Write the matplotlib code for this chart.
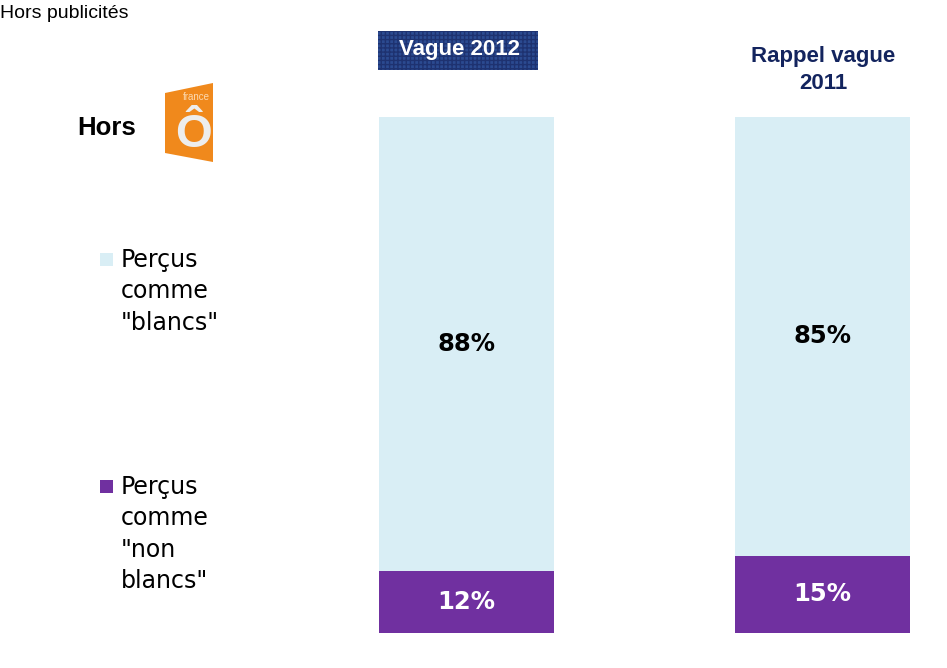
import matplotlib
matplotlib.use("Agg")
import matplotlib.pyplot as plt
from matplotlib.patches import Polygon, Rectangle

# data
waves = ["Vague 2012", "Rappel vague\n2011"]
blancs = [88, 85]
non_blancs = [12, 15]
legend_labels = ['Perçus\ncomme\n"blancs"', 'Perçus\ncomme\n"non\nblancs"']

LIGHT = "#D9EEF5"
PURPLE = "#7030A0"
NAVY = "#13245E"

W, H = 947, 668
fig = plt.figure(figsize=(W / 100, H / 100), dpi=100)


def fx(px):
    return px / W


def fy(py):
    return 1 - py / H


# bars area: x from 379 to 910 px, y from 117 to 633 px
ax = fig.add_axes([fx(379), fy(633), fx(910 - 379), (633 - 117) / H])
xs = range(len(waves))
width = 0.4916
ax.bar(xs, non_blancs, width=width, color=PURPLE)
ax.bar(xs, blancs, width=width, bottom=non_blancs, color=LIGHT)
ax.set_xlim(-width / 2, 1 + width / 2)
ax.set_ylim(0, 100)
ax.axis("off")

for x, nb, b in zip(xs, non_blancs, blancs):
    ax.text(x, nb / 2, f"{nb}%", ha="center", va="center", color="white",
            fontsize=17.5, fontweight="bold", family="DejaVu Sans")
    ax.text(x, nb + b / 2, f"{b}%", ha="center", va="center", color="black",
            fontsize=17.5, fontweight="bold", family="DejaVu Sans")

# header texts
fig.text(fx(0), fy(14), "Hors publicités", ha="left", va="center",
         fontsize=14, family="Liberation Sans")

fig.patches.append(Rectangle((fx(378), fy(70)), fx(160), 39 / H,
                             transform=fig.transFigure, facecolor="#2B4A90",
                             edgecolor="#1E3270", hatch="++++", linewidth=0))
fig.text(fx(459), fy(50), waves[0], ha="center", va="center", color="white",
         fontsize=16, fontweight="bold", family="Liberation Sans")
fig.text(fx(823), fy(70), waves[1], ha="center", va="center", color=NAVY,
         fontsize=16, fontweight="bold", family="Liberation Sans",
         linespacing=1.4)

fig.text(fx(77), fy(128), "Hors", ha="left", va="center",
         fontsize=18.5, fontweight="bold", family="Liberation Sans")

# france O logo (rough)
logo = [(fx(165), fy(93)), (fx(213), fy(83)), (fx(213), fy(162)), (fx(165), fy(153))]
fig.patches.append(Polygon(logo, closed=True, transform=fig.transFigure,
                           facecolor="#F0891C", edgecolor="none"))
fig.text(fx(196), fy(97), "france", ha="center", va="center", color="#FCD9B0",
         fontsize=7, family="Liberation Sans")
fig.text(fx(193), fy(135), "Ô", ha="center", va="center", color="#EDEDED",
         fontsize=34, fontweight="bold", family="Liberation Sans")

# legend
for ytop, label, col in [(253, legend_labels[0], LIGHT), (480, legend_labels[1], PURPLE)]:
    fig.patches.append(Rectangle((fx(100), fy(ytop + 13)), fx(13), 13 / H,
                                 transform=fig.transFigure, facecolor=col,
                                 edgecolor="none"))
    fig.text(fx(121), fy(ytop - 5), label, ha="left", va="top",
             fontsize=17, family="DejaVu Sans", linespacing=1.39)

fig.savefig("out.png", dpi=100)
